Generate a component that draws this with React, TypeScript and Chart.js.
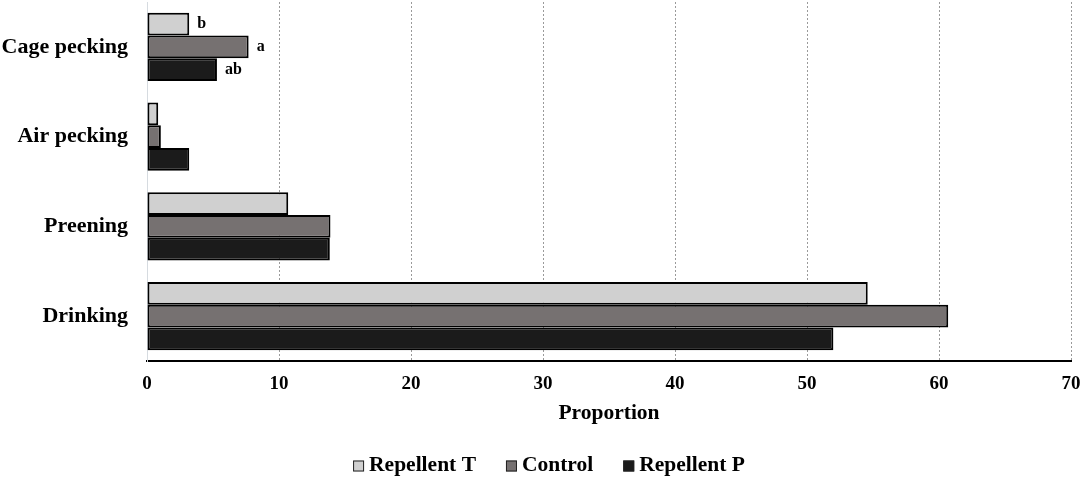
import React, { useEffect, useRef } from "react";
import { Chart, registerables } from "chart.js";

Chart.register(...registerables);

const categories = ["Cage pecking", "Air pecking", "Preening", "Drinking"];
const seriesNames = ["Repellent T", "Control", "Repellent P"];
const repellentT = [3.2, 0.85, 10.7, 54.6];
const control = [7.7, 1.05, 13.9, 60.7];
const repellentP = [5.3, 3.2, 13.85, 52.0];
const annotT = ["b", "", "", ""];
const annotC = ["a", "", "", ""];
const annotP = ["ab", "", "", ""];
const xTicks = [0, 10, 20, 30, 40, 50, 60, 70];

const FONT = "'Liberation Serif', 'Times New Roman', serif";

const annotationPlugin = {
  id: "letterAnnotations",
  afterDatasetsDraw(chart: any) {
    const { ctx } = chart;
    const all = [annotT, annotC, annotP];
    ctx.save();
    ctx.font = `bold 16px ${FONT}`;
    ctx.fillStyle = "#000";
    ctx.textAlign = "left";
    ctx.textBaseline = "middle";
    all.forEach((arr, di) => {
      const meta = chart.getDatasetMeta(di);
      arr.forEach((txt, i) => {
        if (!txt) return;
        const el = meta.data[i];
        ctx.fillText(txt, el.x + 8, el.y);
      });
    });
    ctx.restore();
  },
};

const legendPlugin = {
  id: "customLegend",
  afterDraw(chart: any) {
    const { ctx } = chart;
    ctx.save();
    ctx.font = `bold 21.5px ${FONT}`;
    ctx.textBaseline = "middle";
    ctx.textAlign = "left";
    const box = 11;
    const gap = 5;
    const spacing = 30;
    const ds = chart.data.datasets;
    const widths = ds.map((d: any) => box + gap + ctx.measureText(d.label).width);
    const total = widths.reduce((a: number, b: number) => a + b, 0) + spacing * (ds.length - 1);
    let x = 549 - total / 2;
    const y = 465;
    ds.forEach((d: any, i: number) => {
      ctx.fillStyle = d.backgroundColor;
      ctx.fillRect(x, y - box / 2 + 1, box, box);
      ctx.strokeStyle = "#222";
      ctx.lineWidth = 1;
      ctx.strokeRect(x + 0.5, y - box / 2 + 1.5, box - 1, box - 1);
      ctx.fillStyle = "#000";
      ctx.fillText(d.label, x + box + gap, y);
      x += widths[i] + spacing;
    });
    ctx.restore();
  },
};

export default function App() {
  const canvasRef = useRef<HTMLCanvasElement | null>(null);

  useEffect(() => {
    if (!canvasRef.current) return;
    const colors = ["#d0d0d0", "#767171", "#1b1b1b"];
    const values = [repellentT, control, repellentP];
    const chart = new Chart(canvasRef.current, {
      type: "bar",
      data: {
        labels: categories,
        datasets: seriesNames.map((name, i) => ({
          label: name,
          data: values[i],
          backgroundColor: colors[i],
          borderColor: "#000",
          borderWidth: 2,
          borderSkipped: false,
          categoryPercentage: 0.76,
          barPercentage: 1.0,
        })),
      },
      options: {
        indexAxis: "y",
        animation: false,
        responsive: false,
        maintainAspectRatio: false,
        layout: { padding: { top: 2, right: 13, left: 0, bottom: 0 } },
        plugins: {
          legend: { display: false },
          tooltip: { enabled: false },
        },
        scales: {
          x: {
            type: "linear",
            min: 0,
            max: 70,
            afterBuildTicks: (scale: any) => {
              scale.ticks = xTicks.map((v) => ({ value: v }));
            },
            afterFit: (scale: any) => {
              scale.height = 119;
              scale.paddingLeft = 0;
              scale.paddingRight = 0;
              scale.paddingTop = 0;
              scale.paddingBottom = 0;
            },
            ticks: {
              stepSize: 10,
              padding: 12,
              color: "#000",
              font: { family: FONT, size: 19, weight: "bold" },
            },
            grid: {
              drawTicks: false,
              color: (ctx: any) => (ctx.tick && ctx.tick.value === 0 ? "rgba(0,0,0,0)" : "#9a9a9a"),
              lineWidth: 1,
            },
            border: {
              display: true,
              color: "#000",
              width: 2,
              dash: [2, 2],
            },
            title: {
              display: true,
              text: "Proportion",
              color: "#000",
              font: { family: FONT, size: 21.5, weight: "bold" },
              padding: { top: 0, bottom: 54 },
            },
          },
          y: {
            afterFit: (scale: any) => {
              scale.width = 147;
              scale.paddingLeft = 0;
              scale.paddingRight = 0;
              scale.paddingTop = 0;
              scale.paddingBottom = 0;
            },
            ticks: {
              padding: 19,
              color: "#000",
              font: { family: FONT, size: 22, weight: "bold" },
            },
            grid: { display: false, drawTicks: false },
            border: { display: true, color: "#d6dbe0", width: 1 },
          },
        },
      } as any,
      plugins: [annotationPlugin, legendPlugin],
    });
    return () => chart.destroy();
  }, []);

  return (
    <div style={{ position: "absolute", left: 0, top: 0, width: 1084, height: 480, background: "#fff" }}>
      <canvas ref={canvasRef} width={1084} height={480} style={{ width: 1084, height: 480 }} />
    </div>
  );
}
